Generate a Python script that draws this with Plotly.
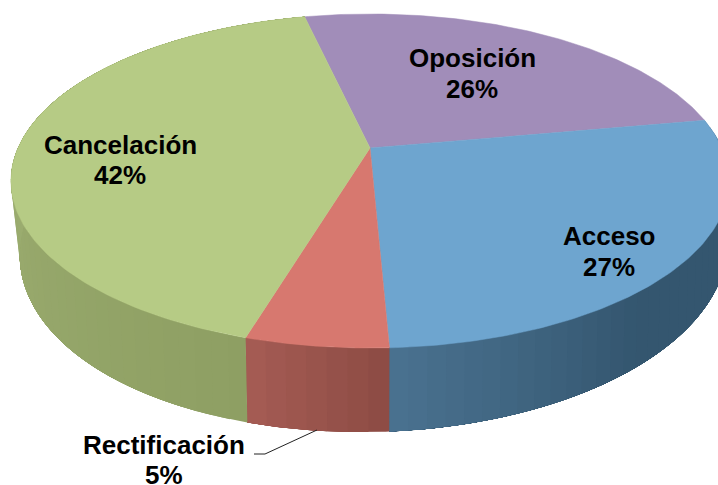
import math
import plotly.graph_objects as go

categories = ["Oposición", "Acceso", "Rectificación", "Cancelación"]
values = [25.7, 27.15, 5.33, 41.82]
top_colors = ["#A18DB9", "#6EA5CF", "#D7786F", "#B6CB85"]
side_start = ["#A18DB9", "#34566F", "#8C4B44", "#8E9F63"]
side_end = ["#A18DB9", "#4A7290", "#A65C54", "#AABC7E"]
label_pos = {"Oposición": (472, 58, 89), "Acceso": (609, 236, 267),
             "Rectificación": (164, 445, 475), "Cancelación": (120, 145, 175)}

START_DEG = -12.8
APEX_X, APEX_Y = 370, 148
A, B, K = 352, 160.5, -0.1976


def disc(theta):
    X, Y = math.sin(theta), -math.cos(theta)
    d = 1 + K * Y
    return X, Y, APEX_X + A * X / d, APEX_Y + B * Y / d


def bottom(theta):
    X, Y, u, v = disc(theta)
    return u - 5 * X + 4 * X * X, v + 62 + 22 * Y - 6 * X


def rgb(c):
    return [int(c[i:i + 2], 16) for i in (1, 3, 5)]


def mix(a, b, t):
    ca, cb = rgb(a), rgb(b)
    return "rgb(%d,%d,%d)" % tuple(round(p + (q - p) * t) for p, q in zip(ca, cb))


fig = go.Figure()
total = sum(values)
spans = []
acc = math.radians(START_DEG)
for v in values:
    nxt = acc + 2 * math.pi * v / total
    spans.append((acc, nxt))
    acc = nxt

# rim walls: each band runs on to the slice's end, the next one paints over it, so no seams show
for i, (a0, a1) in enumerate(spans):
    if categories[i] == "Oposición":
        continue
    n = max(2, int(math.degrees(a1 - a0) / 2.5))
    for j in range(n):
        t0 = a0 + (a1 - a0) * j / n
        if -math.cos(t0) < -0.2 and -math.cos(a1) < -0.2:
            continue
        f = (j + .5) / n
        if categories[i] == "Acceso":
            col = mix(side_start[i], side_end[i], max(0, (f - .62) / .38))
        else:
            col = mix(side_start[i], side_end[i], f)
        ts = [t0 + (a1 - t0) * s / 40 for s in range(41)]
        top = [disc(t)[2:] for t in ts]
        bot = [bottom(t) for t in reversed(ts)]
        pts = top + bot + [top[0]]
        fig.add_trace(go.Scatter(x=[p[0] for p in pts], y=[p[1] for p in pts], mode="lines",
                                 fill="toself", fillcolor=col, line=dict(width=0), hoverinfo="skip"))

# top faces
for i, (a0, a1) in enumerate(spans):
    n = 120
    xs, ys = [APEX_X], [APEX_Y]
    for j in range(n + 1):
        _, _, u, w = disc(a0 + (a1 - a0) * j / n)
        xs.append(u)
        ys.append(w)
    xs.append(APEX_X)
    ys.append(APEX_Y)
    fig.add_trace(go.Scatter(x=xs, y=ys, mode="lines", fill="toself", fillcolor=top_colors[i],
                             line=dict(color=top_colors[i], width=0.5), hoverinfo="skip"))

# leader line
fig.add_trace(go.Scatter(x=[254, 265, 317], y=[454, 454, 430], mode="lines",
                         line=dict(color="#222222", width=1), hoverinfo="skip"))

for c, v in zip(categories, values):
    x, y1, y2 = label_pos[c]
    for txt, y in ((c, y1), (f"{round(v)}%", y2)):
        fig.add_annotation(x=x, y=y, text=f"<b>{txt}</b>", showarrow=False, xanchor="center",
                           yanchor="middle",
                           font=dict(family="Liberation Sans", size=26, color="#000000"))

fig.update_layout(width=718, height=485, margin=dict(l=0, r=0, t=0, b=0), showlegend=False,
                  paper_bgcolor="white", plot_bgcolor="white", hovermode=False,
                  xaxis=dict(range=[0, 718], visible=False, fixedrange=True),
                  yaxis=dict(range=[485, 0], visible=False, fixedrange=True))
fig.write_html("out.html", config={"displayModeBar": False},
               post_script="document.body.style.margin='0';document.documentElement.style.overflow='hidden';")
